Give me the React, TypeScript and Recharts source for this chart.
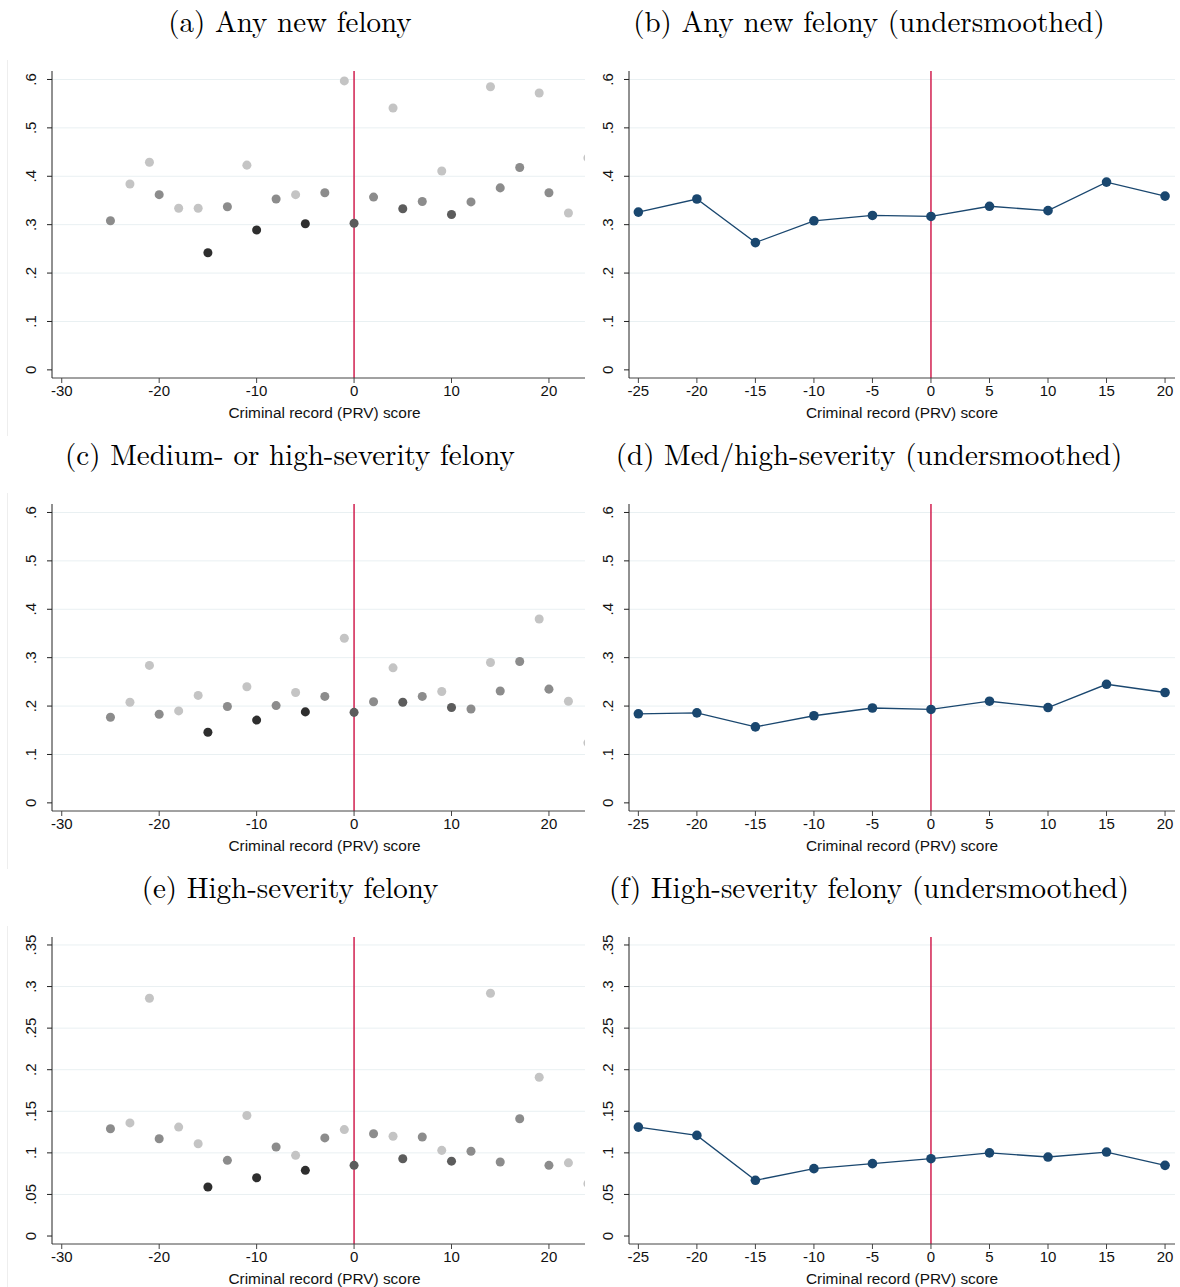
import React from "react";
import { ComposedChart, Scatter, Line, XAxis, YAxis, ZAxis, ReferenceLine } from "recharts";

// binned scatter (left column): PRV score bins
const scoreBins = [-25, -23, -21, -20, -18, -16, -15, -13, -11, -10, -8, -6, -5, -3, -1, 0, 2, 4, 5, 7, 9, 10, 12, 14, 15, 17, 19, 20, 22, 24];
// marker shade group per bin: 0 light, 1 medium, 2 dark, 3 darkest
const binShade = [1, 0, 0, 1, 0, 0, 3, 1, 0, 3, 1, 0, 3, 1, 0, 2, 1, 0, 2, 1, 0, 2, 1, 0, 1, 1, 0, 1, 0, 0];

const anyFelonyBins = [0.308, 0.384, 0.429, 0.362, 0.334, 0.334, 0.242, 0.337, 0.423, 0.289, 0.353, 0.362, 0.302, 0.366, 0.597, 0.303, 0.357, 0.541, 0.333, 0.348, 0.411, 0.321, 0.347, 0.585, 0.376, 0.418, 0.572, 0.366, 0.324, 0.438];
const medHighBins = [0.177, 0.208, 0.284, 0.183, 0.19, 0.222, 0.146, 0.199, 0.24, 0.171, 0.201, 0.228, 0.188, 0.22, 0.34, 0.187, 0.209, 0.279, 0.208, 0.22, 0.23, 0.197, 0.194, 0.29, 0.231, 0.292, 0.38, 0.235, 0.21, 0.124];
const highSevBins = [0.129, 0.136, 0.286, 0.117, 0.131, 0.111, 0.059, 0.091, 0.145, 0.07, 0.107, 0.097, 0.079, 0.118, 0.128, 0.085, 0.123, 0.12, 0.093, 0.119, 0.103, 0.09, 0.102, 0.292, 0.089, 0.141, 0.191, 0.085, 0.088, 0.063];

// undersmoothed estimates (right column)
const rdScores = [-25, -20, -15, -10, -5, 0, 5, 10, 15, 20];
const anyFelonyUS = [0.326, 0.353, 0.263, 0.308, 0.319, 0.317, 0.338, 0.329, 0.388, 0.359];
const medHighUS = [0.184, 0.186, 0.157, 0.18, 0.196, 0.193, 0.21, 0.197, 0.245, 0.228];
const highSevUS = [0.131, 0.121, 0.067, 0.081, 0.087, 0.093, 0.1, 0.095, 0.101, 0.085];

const ticksSix = [0, 0.1, 0.2, 0.3, 0.4, 0.5, 0.6];
const ticksHigh = [0, 0.05, 0.1, 0.15, 0.2, 0.25, 0.3, 0.35];
const scatterXTicks = [-30, -20, -10, 0, 10, 20];

const shadeColors = ["#c4c4c4", "#8c8c8c", "#5c5c5c", "#2e2e2e"];
const sans = "'Liberation Sans', Arial, sans-serif";
const serif = "'Latin Modern Roman', 'Liberation Serif', serif";

const fmt = (v: number) => (v === 0 ? "0" : String(v).replace(/^0/, ""));

const RotTick = (props: any) => {
  const { x, y, payload } = props;
  return (
    <text
      x={0}
      y={0}
      transform={`translate(${x - 9},${y}) rotate(-90)`}
      textAnchor="middle"
      fontSize={15}
      fontFamily={sans}
      fill="#111"
    >
      {fmt(payload.value)}
    </text>
  );
};

interface PanelProps {
  title: string;
  row: number;
  col: number;
  kind: "scatter" | "line";
  values: number[];
  yTicks: number[];
  yDomain: [number, number];
}

const Panel = ({ title, row, col, kind, values, yTicks, yDomain }: PanelProps) => {
  const top = row * 433;
  const left = col * 590;
  const isScatter = kind === "scatter";
  const xs = isScatter ? scoreBins : rdScores;
  const points = xs.map((x, i) => ({ x, y: values[i], g: isScatter ? binShade[i] : 0 }));

  return (
    <div style={{ position: "absolute", left, top, width: 590, height: 433 }}>
      {isScatter && (
        <div style={{ position: "absolute", left: 7, top: 60, width: 1, height: 376, background: "#eeeeee" }} />
      )}
      <div
        style={{
          position: "absolute",
          top: 2,
          left: (isScatter ? 290 : 279) - 300,
          width: 600,
          textAlign: "center",
          fontFamily: serif,
          fontSize: 29,
          lineHeight: "36px",
          color: "#000",
        }}
      >
        {title}
      </div>
      <div style={{ position: "absolute", left: 0, top: 0 }}>
        <ComposedChart width={590} height={433} data={points} margin={{ top: 71, right: 5, bottom: 0, left: 0 }}>
          {yTicks.slice(1).map((t) => (
            <ReferenceLine key={t} y={t} stroke="#e9f0f2" strokeWidth={1} />
          ))}
          <XAxis
            dataKey="x"
            type="number"
            domain={isScatter ? [-31, 23.7] : [-25.8, 20.85]}
            ticks={isScatter ? scatterXTicks : rdScores}
            allowDataOverflow
            interval={0}
            height={55}
            tickSize={5}
            stroke="#444"
            tick={{ fontSize: 15, fontFamily: sans, fill: "#111" }}
            label={{
              value: "Criminal record (PRV) score",
              position: "insideBottom",
              offset: 15,
              dx: isScatter ? 6 : 0,
              style: { fontSize: 15.4, fontFamily: sans, fill: "#111" },
            }}
          />
          <YAxis
            dataKey="y"
            type="number"
            domain={yDomain}
            ticks={yTicks}
            allowDataOverflow
            interval={0}
            width={isScatter ? 52 : 39}
            tickSize={5}
            stroke="#222"
            tick={<RotTick />}
          />
          <ZAxis range={[72, 72]} />
          <ReferenceLine x={0} stroke="#d11f4f" strokeWidth={1.5} />
          {isScatter &&
            shadeColors.map((c, g) => (
              <Scatter
                key={g}
                data={points.filter((p) => p.g === g)}
                fill={c}
                isAnimationActive={false}
              />
            ))}
          {!isScatter && (
            <Line
              dataKey="y"
              type="linear"
              stroke="#1a476f"
              strokeWidth={1.3}
              dot={{ r: 4.8, fill: "#1a476f", stroke: "#1a476f", strokeWidth: 0 }}
              isAnimationActive={false}
            />
          )}
        </ComposedChart>
      </div>
    </div>
  );
};

export default function App() {
  const sixDomain: [number, number] = [-0.0168, 0.6175];
  const highDomain: [number, number] = [-0.0096, 0.3596];
  return (
    <div
      style={{
        position: "absolute",
        left: 0,
        top: 0,
        width: 1180,
        height: 1287,
        overflow: "hidden",
        background: "#fff",
      }}
    >
      <Panel title="(a) Any new felony" row={0} col={0} kind="scatter" values={anyFelonyBins} yTicks={ticksSix} yDomain={sixDomain} />
      <Panel title="(b) Any new felony (undersmoothed)" row={0} col={1} kind="line" values={anyFelonyUS} yTicks={ticksSix} yDomain={sixDomain} />
      <Panel title="(c) Medium- or high-severity felony" row={1} col={0} kind="scatter" values={medHighBins} yTicks={ticksSix} yDomain={sixDomain} />
      <Panel title="(d) Med/high-severity (undersmoothed)" row={1} col={1} kind="line" values={medHighUS} yTicks={ticksSix} yDomain={sixDomain} />
      <Panel title="(e) High-severity felony" row={2} col={0} kind="scatter" values={highSevBins} yTicks={ticksHigh} yDomain={highDomain} />
      <Panel title="(f) High-severity felony (undersmoothed)" row={2} col={1} kind="line" values={highSevUS} yTicks={ticksHigh} yDomain={highDomain} />
    </div>
  );
}
